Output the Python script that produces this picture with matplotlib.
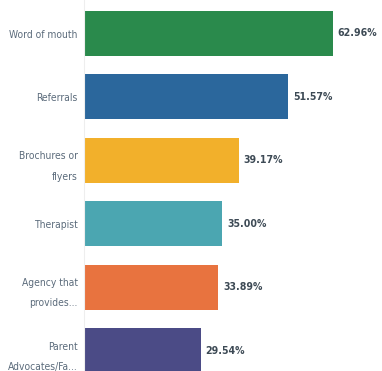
import matplotlib
matplotlib.use("Agg")
import matplotlib.pyplot as plt

categories = ["Word of mouth", "Referrals", "Brochures or\nflyers", "Therapist",
              "Agency that\nprovides...", "Parent\nAdvocates/Fa..."]
values = [62.96, 51.57, 39.17, 35.00, 33.89, 29.54]
value_labels = ["62.96%", "51.57%", "39.17%", "35.00%", "33.89%", "29.54%"]
colors = ["#2a8a4c", "#2b679c", "#f2b02b", "#4ba6b1", "#e8733f", "#4b4b86"]

fam = "DejaVu Sans"

W, H = 382, 371
fig = plt.figure(figsize=(W / 100, H / 100), dpi=100)
ax = fig.add_axes([84 / W, 0, (W - 84) / W, 1])

pos = list(range(len(values)))
ax.barh(pos, values, height=0.71, color=colors)
ax.set_xlim(0, 62.96 * (W - 84) / (333 - 84))
top = -33.5 / 63.4
bottom = (H - 33.5) / 63.4
ax.set_ylim(bottom, top)

for p, v, lab in zip(pos, values, value_labels):
    ax.annotate(lab, (v, p), xytext=(3.5, 0), textcoords="offset points",
                va="center", ha="left", fontsize=7.6, fontweight="bold",
                color="#3d4a55", family=fam, fontstretch="condensed")

ax.set_yticks(pos)
ax.set_yticklabels(categories, fontsize=7.4, color="#5b6b7b", family=fam,
                   fontstretch="condensed", linespacing=2.3)
ax.tick_params(axis="y", length=0, pad=4.5)
ax.set_xticks([])
for s in ["top", "right", "bottom"]:
    ax.spines[s].set_visible(False)
ax.spines["left"].set_color("#eeeeee")
ax.spines["left"].set_linewidth(0.8)

fig.savefig("out.png", dpi=100)
